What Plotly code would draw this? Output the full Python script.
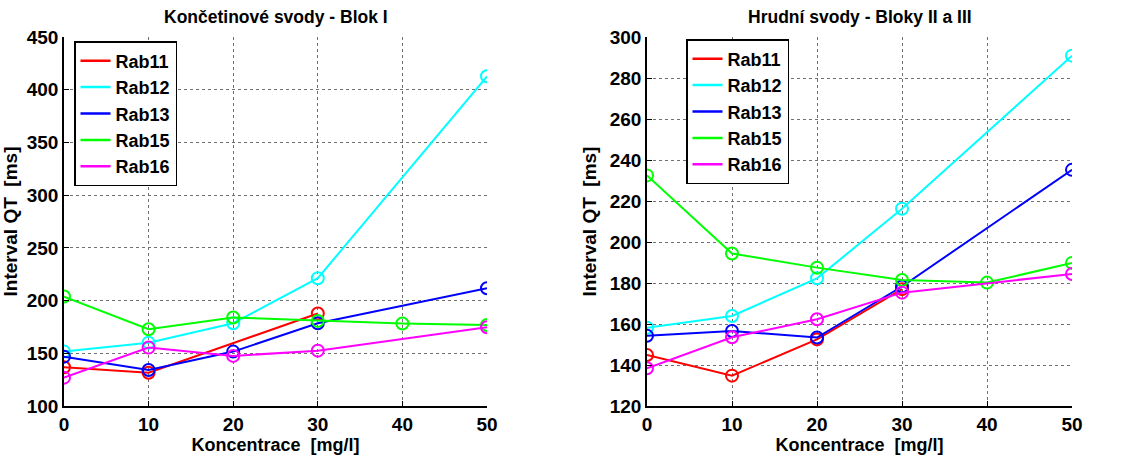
import plotly.graph_objects as go
from plotly.subplots import make_subplots

# Concentration levels [mg/l]
koncentrace = [0, 10, 20, 30, 40, 50]

# QT interval [ms] - limb leads (Blok I); None = not measured
blok1_rab11 = [136.7, 131.6, None, 187.7, None, None]
blok1_rab12 = [151.6, 160.1, 178.5, 221.2, None, 412.7]
blok1_rab13 = [146.8, 134.2, 151.6, 178.5, None, 211.7]
blok1_rab15 = [203.8, 172.8, 183.9, 180.7, 178.2, 176.9]
blok1_rab16 = [126.9, 155.4, 147.5, 152.5, None, 174.7]

# QT interval [ms] - chest leads (Bloky II a III)
blok23_rab11 = [144.9, 134.8, 152.5, 177.0, None, None]
blok23_rab12 = [158.2, 163.9, 182.3, 216.2, None, 290.9]
blok23_rab13 = [154.3, 156.6, 153.4, 178.3, None, 235.2]
blok23_rab15 = [232.5, 194.4, 187.5, 181.5, 180.2, 189.8]
blok23_rab16 = [138.4, 153.5, 162.3, 175.3, None, 184.4]

nazvy = ["Rab11", "Rab12", "Rab13", "Rab15", "Rab16"]
barvy = ["#FF0000", "#00FFFF", "#0000FF", "#00FF00", "#FF00FF"]

blok1 = [blok1_rab11, blok1_rab12, blok1_rab13, blok1_rab15, blok1_rab16]
blok23 = [blok23_rab11, blok23_rab12, blok23_rab13, blok23_rab15, blok23_rab16]

FONT = "Liberation Sans, Arial, sans-serif"

fig = make_subplots(rows=1, cols=2)

for col, (data, leg) in enumerate([(blok1, "legend"), (blok23, "legend2")], start=1):
    for name, color, ys in zip(nazvy, barvy, data):
        # measured curve with open-circle markers
        fig.add_trace(
            go.Scatter(
                x=koncentrace, y=ys, name=name, mode="lines+markers",
                connectgaps=True, showlegend=False,
                line=dict(color=color, width=2),
                marker=dict(symbol="circle-open", size=12, color=color,
                            line=dict(width=2, color=color)),
            ),
            row=1, col=col,
        )
        # line-only legend entry
        fig.add_trace(
            go.Scatter(
                x=[None], y=[None], name=name, mode="lines",
                line=dict(color=color, width=2.5),
                legend=leg, showlegend=True,
            ),
            row=1, col=col,
        )

axis_common = dict(
    showline=True, linecolor="black", linewidth=1.5, mirror=False,
    ticks="inside", ticklen=5, tickcolor="black",
    showgrid=True, gridcolor="#707070", griddash="dot", gridwidth=1,
    zeroline=False, automargin=False,
    tickfont=dict(family=FONT, size=19, color="black", weight="bold"),
    title_font=dict(family=FONT, size=18, color="black", weight="bold"),
)

fig.update_xaxes(axis_common)
fig.update_yaxes(axis_common)

fig.update_xaxes(range=[0, 50], dtick=10, title_text="Koncentrace  [mg/l]",
                 title_standoff=2)
fig.update_yaxes(title_text="Interval QT  [ms]", title_standoff=8,
                 title_font_size=19)

fig.update_layout(
    xaxis=dict(domain=[64 / 1146, 487 / 1146]),
    xaxis2=dict(domain=[647 / 1146, 1072 / 1146]),
    yaxis=dict(domain=[53 / 459, 422 / 459], range=[100, 450], dtick=50),
    yaxis2=dict(domain=[53 / 459, 422 / 459], range=[120, 300], dtick=20),
)

legend_common = dict(
    bgcolor="white", bordercolor="black", borderwidth=1.5,
    font=dict(family=FONT, size=18, color="black", weight="bold"),
    xanchor="left", yanchor="top", tracegroupgap=0,
    itemwidth=30,
)
fig.update_layout(
    legend=dict(legend_common, x=74 / 1146, y=1 - 41 / 459),
    legend2=dict(legend_common, x=686 / 1146, y=1 - 39 / 459),
)

fig.add_annotation(text="Končetinové svody - Blok I", x=(64 + 487) / 2 / 1146,
                   y=1 - 17 / 459, xref="paper", yref="paper", showarrow=False,
                   xanchor="center", yanchor="middle",
                   font=dict(family=FONT, size=17.5, color="black", weight="bold"))
fig.add_annotation(text="Hrudní svody - Bloky II a III", x=(647 + 1072) / 2 / 1146,
                   y=1 - 17 / 459, xref="paper", yref="paper", showarrow=False,
                   xanchor="center", yanchor="middle",
                   font=dict(family=FONT, size=17.5, color="black", weight="bold"))

fig.update_layout(
    width=1146, height=459,
    margin=dict(l=0, r=0, t=0, b=0),
    paper_bgcolor="white", plot_bgcolor="white",
)

fig.write_html("out.html")
